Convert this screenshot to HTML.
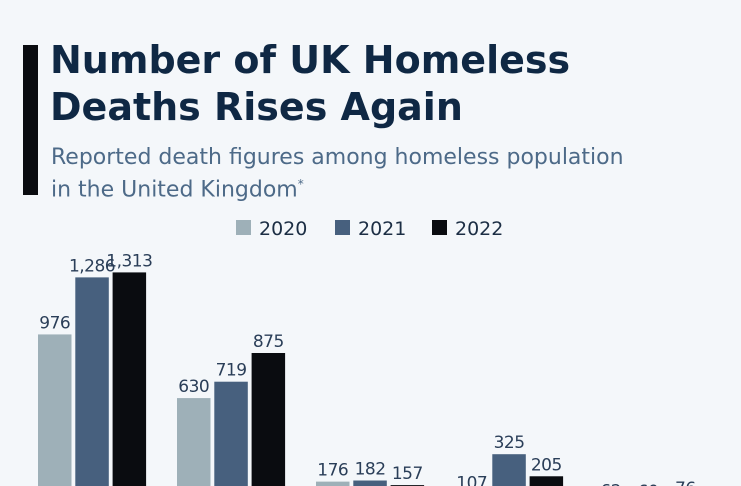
<!DOCTYPE html>
<html><head><meta charset="utf-8"><style>
html,body{margin:0;width:741px;height:486px;overflow:hidden}
body{background:#f4f7fa;font-family:"DejaVu Sans","Liberation Sans",sans-serif;position:relative}
.accent{position:absolute;left:23px;top:45px;width:15px;height:150px;background:#0a0c10}
h1{position:absolute;left:50px;top:37px;margin:0;font-size:38px;line-height:47px;color:#0f2844;font-weight:bold;white-space:nowrap}
.sub{position:absolute;left:51px;top:144px;font-size:22px;line-height:27px;color:#4d6a88;white-space:nowrap}
svg{position:absolute;left:0;top:0;font-family:"DejaVu Sans",sans-serif}
</style></head><body>
<div class="accent"></div>
<h1>Number of UK Homeless<br>Deaths Rises Again</h1>
<div class="sub">Reported death figures among homeless population<br>in the United Kingdom<sup style="font-size:12px">*</sup></div>
<svg id="c" width="741" height="486"></svg>
<script>
const categories=["A","B","C","D","E"];
const years=["2020","2021","2022"];
const v2020=[976,630,176,107,62];
const v2021=[1286,719,182,325,60];
const v2022=[1313,875,157,205,76];
const colors=["#9eb0b8","#47607e","#0a0c10"];
const NS="http://www.w3.org/2000/svg";
const svg=document.getElementById('c');
const base=514,k=0.184;
const y=v=>base-v*k;
const x=(g,s)=>38+g*139+s*37.3;
function mk(t,a){const e=document.createElementNS(NS,t);for(const n in a)e.setAttribute(n,a[n]);svg.appendChild(e);return e;}
[v2020,v2021,v2022].forEach((arr,s)=>{
 arr.forEach((v,g)=>{
  const r=mk('rect',{x:x(g,s),y:y(v),width:33.5,height:Math.max(0,486-y(v)),fill:colors[s]});
  
  
  const t=mk('text',{x:x(g,s)+16.75,y:y(v)-6,'text-anchor':'middle','font-size':'17','letter-spacing':'-0.5',fill:'#2a3e58'});
  t.textContent=v.toLocaleString('en-US');
  
  
 });
});
const lx=[236,335,432];
years.forEach((yr,i)=>{
 const r=mk('rect',{x:lx[i],y:220,width:15,height:15,fill:colors[i]});
 
 
 const t=mk('text',{x:lx[i]+23,y:235,'font-size':'19',fill:'#1c2e44'});
 t.textContent=yr;
 
 
});
</script>
</body></html>
